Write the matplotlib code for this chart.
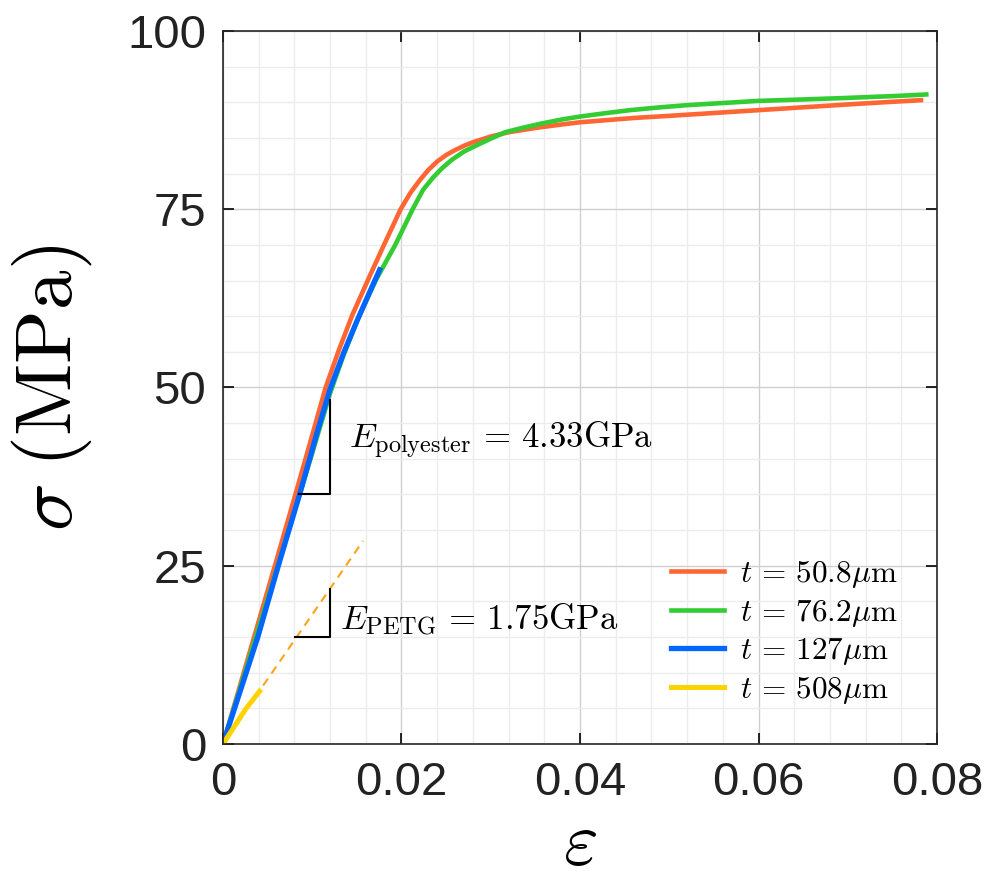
import numpy as np
import matplotlib.pyplot as plt
from matplotlib.ticker import MultipleLocator

plt.rcParams['mathtext.fontset'] = 'cm'
plt.rcParams['font.family'] = ['Liberation Sans', 'DejaVu Sans']

# t = 50.8 um
strain_508 = [0, 0.002, 0.004, 0.006, 0.008, 0.010, 0.0115, 0.013, 0.0145, 0.0165,
              0.018, 0.0199, 0.021, 0.022, 0.023, 0.024, 0.025, 0.026, 0.027, 0.028,
              0.030, 0.032, 0.035, 0.038, 0.040, 0.043, 0.046, 0.050, 0.055, 0.060,
              0.065, 0.070, 0.074, 0.0782]
stress_508 = [0, 8.6, 17.2, 25.8, 34.5, 43.3, 50.0, 55.3, 60.2, 65.8,
              69.9, 75.0, 77.3, 79.0, 80.5, 81.7, 82.6, 83.3, 83.9, 84.4,
              85.2, 85.8, 86.4, 86.9, 87.2, 87.5, 87.8, 88.1, 88.5, 88.9,
              89.3, 89.7, 90.0, 90.3]
# t = 76.2 um
strain_762 = [0, 0.002, 0.004, 0.006, 0.008, 0.010, 0.012, 0.0135, 0.015, 0.0171,
              0.0193, 0.02125, 0.0224, 0.0235, 0.0245, 0.0256, 0.027, 0.0288, 0.030,
              0.0316, 0.0335, 0.0356, 0.038, 0.040, 0.043, 0.0456, 0.049, 0.052,
              0.056, 0.060, 0.065, 0.0696, 0.0756, 0.0788]
stress_762 = [0, 8.2, 16.3, 24.4, 32.6, 40.8, 49.2, 54.5, 59.3, 65.0,
              70.0, 75.0, 77.7, 79.4, 80.7, 81.9, 83.1, 84.2, 84.9,
              85.8, 86.4, 87.0, 87.6, 88.0, 88.5, 88.9, 89.3, 89.6,
              89.9, 90.2, 90.4, 90.6, 90.9, 91.1]
# t = 127 um
strain_127 = [0, 0.0039, 0.0062, 0.0087, 0.0105, 0.0120, 0.0135, 0.0150, 0.0163, 0.01755]
stress_127 = [0, 15.0, 25.0, 35.5, 43.5, 49.8, 54.8, 59.3, 63.0, 66.5]
# t = 508 um
strain_5080 = [0, 0.0026, 0.0041]
stress_5080 = [0, 5.0, 7.4]
# PETG linear fit extension
fit_strain = [0.0045, 0.0157]
fit_stress = [8.2, 28.5]

labels = [r'$t \,=\, 50.8\mu\mathrm{m}$', r'$t \,=\, 76.2\mu\mathrm{m}$',
          r'$t \,=\, 127\mu\mathrm{m}$', r'$t \,=\, 508\mu\mathrm{m}$']
colors = ['#ff6633', '#33cc33', '#0066ff', '#ffd200']

fig = plt.figure(figsize=(9.88, 8.86), dpi=100)
ax = fig.add_axes([0.2257, 0.1603, 0.7227, 0.8047])

ax.plot(strain_508, stress_508, color=colors[0], lw=3.3, label=labels[0])
ax.plot(strain_762, stress_762, color=colors[1], lw=3.3, label=labels[1])
ax.plot(strain_127, stress_127, color=colors[2], lw=3.8, label=labels[2])
ax.plot(strain_5080, stress_5080, color=colors[3], lw=3.6, label=labels[3])
ax.plot(fit_strain, fit_stress, color='#ffa31a', lw=1.5, ls=(0, (4, 3)))

# slope triangles
ax.plot([0.0085, 0.0120, 0.0120], [35.1, 35.1, 48.2], color='k', lw=1.5)
ax.plot([0.0081, 0.0120, 0.0120], [15.0, 15.0, 21.8], color='k', lw=1.5)
ax.text(0.0141, 42.6, r'$E_\mathrm{polyester} \,=\, 4.33\mathrm{GPa}$', fontsize=25, va='center')
ax.text(0.0131, 17.5, r'$E_\mathrm{PETG} \,=\, 1.75\mathrm{GPa}$', fontsize=25, va='center')

ax.set_xlim(0, 0.08)
ax.set_ylim(0, 100)
ax.set_xticks([0, 0.02, 0.04, 0.06, 0.08])
ax.set_xticklabels(['0', '0.02', '0.04', '0.06', '0.08'])
ax.set_yticks([0, 25, 50, 75, 100])
ax.xaxis.set_minor_locator(MultipleLocator(0.004))
ax.yaxis.set_minor_locator(MultipleLocator(5))
ax.grid(which='major', color='#cfcfcf', lw=1.0)
ax.grid(which='minor', color='#ececec', lw=1.0)
ax.set_axisbelow(True)
ax.tick_params(which='major', direction='in', length=8, width=1.2, labelsize=34,
               top=True, right=True, pad=12, colors='k', labelcolor='#222222')
ax.tick_params(which='minor', length=0)
for s in ax.spines.values():
    s.set_linewidth(1.2)
    s.set_color('#262626')

ax.set_xlabel(r'$\varepsilon$', fontsize=54, labelpad=4)
ax.set_ylabel(r'$\sigma\;(\mathrm{MPa})$', fontsize=57, labelpad=24)

ax.legend(loc='lower left', bbox_to_anchor=(0.605, 0.031), frameon=False, fontsize=22.5,
          handlelength=1.72, handletextpad=0.5, labelspacing=0.25, borderpad=0)

plt.savefig('out.png', dpi=100)
